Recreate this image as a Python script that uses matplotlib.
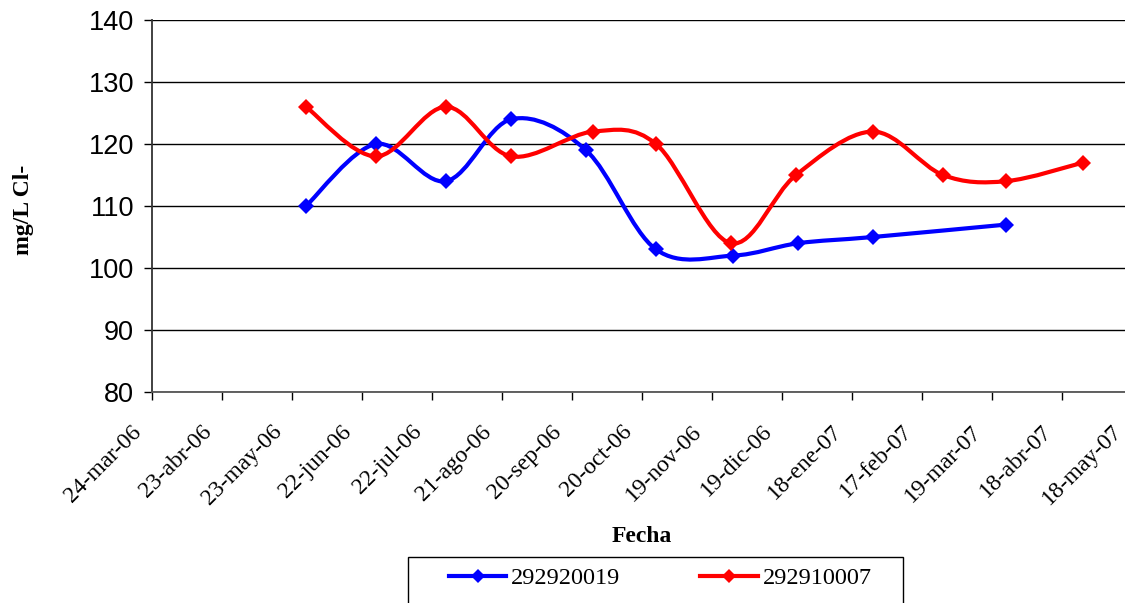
import numpy as np
import matplotlib
matplotlib.use("Agg")
import matplotlib.pyplot as plt
import matplotlib.dates as mdates
import matplotlib.transforms as mtransforms
from matplotlib.path import Path
from matplotlib.patches import PathPatch, Rectangle
from matplotlib.lines import Line2D
from datetime import date, timedelta

# data
blue_dates = ["2006-05-29", "2006-06-28", "2006-07-28", "2006-08-25", "2006-09-26",
              "2006-10-26", "2006-11-28", "2006-12-26", "2007-01-27", "2007-03-25"]
blue_vals = [110, 120, 114, 124, 119, 103, 102, 104, 105, 107]

red_dates = ["2006-05-29", "2006-06-28", "2006-07-28", "2006-08-25", "2006-09-29",
             "2006-10-26", "2006-11-27", "2006-12-25", "2007-01-27", "2007-02-26",
             "2007-03-25", "2007-04-27"]
red_vals = [126, 118, 126, 118, 122, 120, 104, 115, 122, 115, 114, 117]

series_names = ["292920019", "292910007"]

tick_labels = ["24-mar-06", "23-abr-06", "23-may-06", "22-jun-06", "22-jul-06",
               "21-ago-06", "20-sep-06", "20-oct-06", "19-nov-06", "19-dic-06",
               "18-ene-07", "17-feb-07", "19-mar-07", "18-abr-07", "18-may-07"]
start_date = date(2006, 3, 24)
tick_step_days = 30


def smooth_path(xs, ys):
    # Excel-like smoothed line: Catmull-Rom segments as cubic Beziers
    pts = np.column_stack([xs, ys]).astype(float)
    ext = np.vstack([pts[0], pts, pts[-1]])
    verts = [pts[0]]
    codes = [Path.MOVETO]
    for i in range(1, len(ext) - 2):
        p0, p1, p2, p3 = ext[i - 1], ext[i], ext[i + 1], ext[i + 2]
        c1 = p1 + (p2 - p0) / 6.0
        c2 = p2 - (p3 - p1) / 6.0
        verts += [c1, c2, p2]
        codes += [Path.CURVE4] * 3
    return Path(verts, codes)


fig = plt.figure(figsize=(11.25, 6.03), dpi=100)
ax = fig.add_axes([152 / 1125, 1 - 392 / 603, 980 / 1125, 372 / 603])

for dts, vals, col in [(blue_dates, blue_vals, "#0000ff"), (red_dates, red_vals, "#ff0000")]:
    xn = mdates.date2num(np.array(dts, dtype="datetime64[D]"))
    ax.add_patch(PathPatch(smooth_path(xn, vals), facecolor="none", edgecolor=col,
                           lw=3, capstyle="round", joinstyle="round", zorder=3))
    ax.plot(xn, vals, linestyle="none", marker="D", ms=8, color=col, mew=0, zorder=4)

tick_dates = [start_date + timedelta(days=tick_step_days * k) for k in range(len(tick_labels))]
tick_pos = mdates.date2num(tick_dates)
ax.set_xlim(tick_pos[0], tick_pos[-1])
ax.set_ylim(80, 140)
ax.set_xticks(tick_pos)
ax.set_xticklabels(tick_labels, rotation=45, ha="right", va="top",
                   family="Liberation Serif", fontsize=17)
ax.set_yticks(np.arange(80, 141, 10))
ax.set_yticklabels([str(v) for v in range(80, 141, 10)], family="Liberation Sans", fontsize=19.5)
ax.tick_params(axis="x", direction="out", length=6, width=1, pad=15)
ax.tick_params(axis="y", direction="out", length=6, width=1, pad=7)

offset = mtransforms.ScaledTranslation(-6 / 100, 0, fig.dpi_scale_trans)
for lab in ax.get_xticklabels():
    lab.set_transform(lab.get_transform() + offset)

ax.grid(axis="y", color="black", lw=1)
ax.set_axisbelow(True)
for side in ["top", "right"]:
    ax.spines[side].set_visible(False)
ax.spines["left"].set_linewidth(1.3)
ax.spines["bottom"].set_linewidth(1.3)
ax.spines["left"].set_color("#333333")
ax.spines["bottom"].set_color("#555555")

fig.text(24 / 1125, 1 - 210 / 603, "mg/L Cl-", rotation=90, ha="center", va="center",
         family="Liberation Serif", fontweight="bold", fontsize=17)
fig.text(642 / 1125, 1 - 537 / 603, "Fecha", ha="center", va="center",
         family="Liberation Serif", fontweight="bold", fontsize=17)

# legend box (runs off the bottom of the picture)
fig.patches.append(Rectangle((408 / 1125, -0.02), 495 / 1125, 0.02 + 1 - 557 / 603,
                             transform=fig.transFigure, fill=False, edgecolor="black", lw=1))
handles = [Line2D([], [], color="#0000ff", lw=3, marker="D", ms=7, mew=0),
           Line2D([], [], color="#ff0000", lw=3, marker="D", ms=7, mew=0)]
fig.legend(handles, series_names, loc="center left", bbox_to_anchor=(449 / 1125, 1 - 578 / 603),
           ncol=2, frameon=False, borderpad=0, borderaxespad=0, handlelength=2.35,
           handletextpad=0.2, columnspacing=3.3,
           prop={"family": "Liberation Serif", "size": 17.5})

fig.savefig("out.png", dpi=100)
